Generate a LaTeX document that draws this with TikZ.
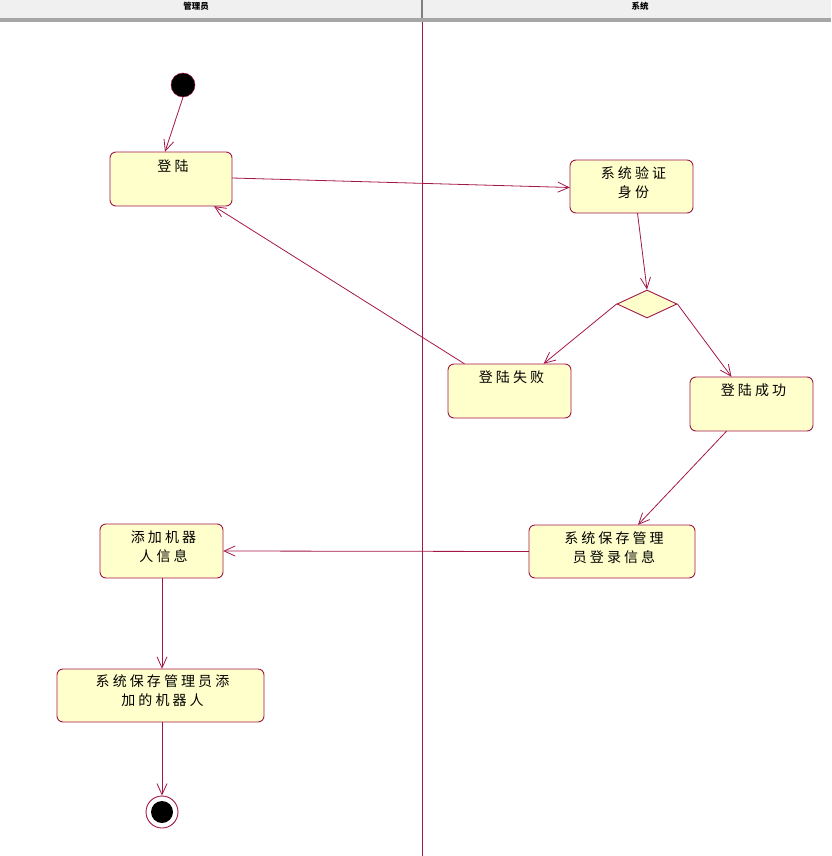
\documentclass[tikz,border=0pt]{standalone}
\usepackage{fontspec}
\setmainfont{Noto Sans CJK SC}
\newfontfamily\lblfont[LetterSpace=22]{Noto Sans CJK SC}
\usetikzlibrary{arrows.meta,shapes.geometric}
\definecolor{umlred}{HTML}{A3164A}
\definecolor{umlfill}{HTML}{FFFFCC}
\definecolor{hdr}{HTML}{F0F0F0}
\tikzset{
  act/.style={draw=umlred,fill=umlfill,rounded corners=6pt,line width=0.9pt,inner sep=0pt},
  lbl/.style={font=\lblfont\fontsize{14}{19}\selectfont,align=center,inner sep=0pt},
  flow/.style={draw=umlred,line width=0.8pt,-{Straight Barb[length=11pt,width=10pt,line width=0.8pt]}},
}
\begin{document}
\begin{tikzpicture}[x=1pt,y=-1pt]
\useasboundingbox (0,0) rectangle (831,856);
% header
\fill[hdr] (0,0) rectangle (831,18);
\fill[gray!70] (0,18) rectangle (831,22);
\draw[gray,line width=1.5pt] (422,0) -- (422,18);
\node[font=\fontsize{8.5}{8.5}\selectfont\bfseries] (h1) at (196,6) {管理员};
\node[font=\fontsize{8.5}{8.5}\selectfont\bfseries] (h2) at (640,6) {系统};
\draw[umlred,line width=1pt] (422,22) -- (422,856);
% start / end
\node[circle,fill=black,draw=umlred,line width=0.5pt,minimum size=24pt,inner sep=0pt] (start) at (183,85) {};
\node[circle,draw=umlred,line width=0.9pt,minimum size=32pt,inner sep=0pt] (endo) at (162,812) {};
\node[circle,fill=black,minimum size=22pt,inner sep=0pt] (endi) at (162,812) {};
% activities
\path[act] (110,152) rectangle (232,206);
\node (a1) at (171,179) [minimum width=122pt,minimum height=54pt,inner sep=0pt] {};
\node[lbl] (t1) at (173,166) {登陆};

\path[act] (570,160) rectangle (693,213);
\node (a2) at (631.5,186.5) [minimum width=123pt,minimum height=53pt,inner sep=0pt] {};
\node[lbl] (t2) at (633.5,182.5) {系统验证\\身份};

\node[diamond,draw=umlred,fill=umlfill,line width=0.9pt,minimum width=60pt,minimum height=28pt,inner sep=0pt] (d) at (647,304) {};

\path[act] (448,364) rectangle (571,418);
\node (a3) at (509.5,391) [minimum width=123pt,minimum height=54pt,inner sep=0pt] {};
\node[lbl] (t3) at (511.5,377) {登陆失败};

\path[act] (690,377) rectangle (813,431);
\node (a4) at (751.5,404) [minimum width=123pt,minimum height=54pt,inner sep=0pt] {};
\node[lbl] (t4) at (753.5,390) {登陆成功};

\path[act] (529,525) rectangle (695,578);
\node (a5) at (612,551.5) [minimum width=166pt,minimum height=53pt,inner sep=0pt] {};
\node[lbl] (t5) at (614,547.5) {系统保存管理\\员登录信息};

\path[act] (100,524) rectangle (223,578);
\node (a6) at (161.5,551) [minimum width=123pt,minimum height=54pt,inner sep=0pt] {};
\node[lbl] (t6) at (163.5,547) {添加机器\\人信息};

\path[act] (57,669) rectangle (264,722);
\node (a7) at (160.5,695.5) [minimum width=207pt,minimum height=53pt,inner sep=0pt] {};
\node[lbl] (t7) at (162.5,691) {系统保存管理员添\\加的机器人};

% flows
\draw[flow] (start.south) -- ([xshift=-6pt]a1.north);
\draw[flow] ([yshift=1pt]a1.east) -- ([yshift=-1pt]a2.west);
\draw[flow] ([xshift=6pt]a2.south) -- (d.north);
\draw[flow] (d.west) -- ([xshift=34pt]a3.north);
\draw[flow] (d.east) -- ([xshift=-20pt]a4.north);
\draw[flow] ([xshift=-45pt]a3.north) -- ([xshift=43pt]a1.south);
\draw[flow] ([xshift=-25pt]a4.south) -- ([xshift=26pt]a5.north);
\draw[flow] (a5.west) -- (a6.east);
\draw[flow] ([xshift=0.5pt]a6.south) -- ([xshift=1.5pt]a7.north);
\draw[flow] ([xshift=1.5pt]a7.south) -- (endo.north);
\end{tikzpicture}
\end{document}
